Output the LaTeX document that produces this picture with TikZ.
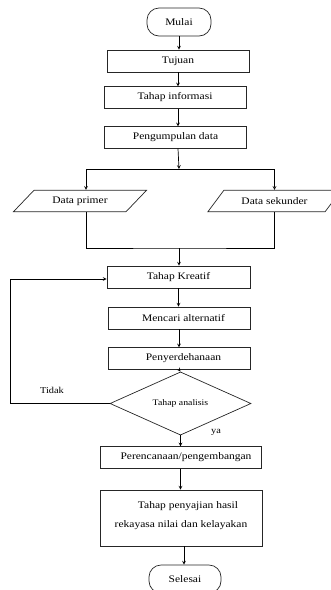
\documentclass[tikz,border=0pt]{standalone}
\usepackage{fontspec}
\setmainfont{Liberation Serif}[FakeStretch=1.15]
\usetikzlibrary{shapes.geometric}

\begin{document}
\begin{tikzpicture}[x=1pt,y=-1pt]
                \useasboundingbox (0,0) rectangle (330,590);
                \begin{scope}[every node/.style={draw=black!85, line width=0.7pt, rectangle, minimum height=21.5, inner sep=1, font=\fontsize{10}{19}\selectfont}]
                        \node [rounded corners=12pt, minimum width=64, minimum height=28] (M) at (179,22) {Mulai};
                        \node [minimum width=142, minimum height=22] (T) at (178,61) {Tujuan};
                        \node [minimum width=142] (I) at (175,97.5) {Tahap informasi};
                        \node [minimum width=142] (P) at (175.5,137.5) {Pengumpulan data};
                        \node [trapezium, trapezium left angle=40, trapezium right angle=140, trapezium stretches=true, minimum width=134] (DP) at (80,201) {Data primer};
                        \node [trapezium, trapezium left angle=40, trapezium right angle=140, trapezium stretches=true, minimum width=134] (DS) at (274.5,201) {Data sekunder};
                        \node [minimum width=143, minimum height=22] (K) at (178.5,277) {Tahap Kreatif};
                        \node [minimum width=142, minimum height=22] (A) at (179,318) {\hspace*{9pt}Mencari alternatif};
                        \node [minimum width=142] (S) at (179,358.5) {\hspace*{9pt}Penyerdehanaan};
                        \node [diamond, minimum width=141, minimum height=47, inner sep=0, font=\fontsize{8.5}{10}\selectfont] (An) at (180.5,403.5) {Tahap analisis};
                        \node [minimum width=161] (R) at (180.5,457.5) {\hspace*{11pt}Perencanaan/pengembangan};
                        \node [minimum width=162, minimum height=56, align=center, text depth=7pt] (H) at (181,518) {\hspace*{14pt}Tahap penyajian hasil\\rekayasa nilai dan kelayakan};
                        \node [rounded corners=12pt, minimum width=72, minimum height=28] (E) at (185,579) {Selesai};
                \end{scope}

                \begin{scope}[every node/.style={inner sep=1, font=\fontsize{9}{10}\selectfont}]
                        \node (tdk) at (52,390) {Tidak};
                        \node (ya) at (216,432) {ya};
                \end{scope}

                \coordinate (pecah) at (179,169);
                \coordinate (gabung) at (179,248);

                \begin{scope}[every path/.style={line width=0.7pt, ->, >=stealth}]
                        \path (M.south) edge (M.south |- T.north);
                        \path (T.south) edge (T.south |- I.north);
                        \path (I.south -| T.south) edge (T.south |- P.north);
                        \path (P.south -| T.south) edge (pecah);
                        \draw (pecah) -| ([xshift=6]DP.north);
                        \draw (pecah) -| (DS.north);
                        \draw [-] ([xshift=6]DP.south) |- (gabung) -| (DS.south);
                        \path (gabung) edge (gabung |- K.north);
                        \path (K.south) edge (K.south |- A.north);
                        \path (A.south) edge (A.south |- S.north);
                        \path (S.south) edge (An.north);
                        \path (An.south) edge (An.south |- R.north);
                        \path (R.south) edge (R.south |- H.north);
                        \path ([xshift=3]H.south) edge ([xshift=3]H.south |- E.north);
                        \draw (An.west) -- ++(-99,0) |- ([yshift=-2]K.west);
               \end{scope}
\end{tikzpicture}
\end{document}
